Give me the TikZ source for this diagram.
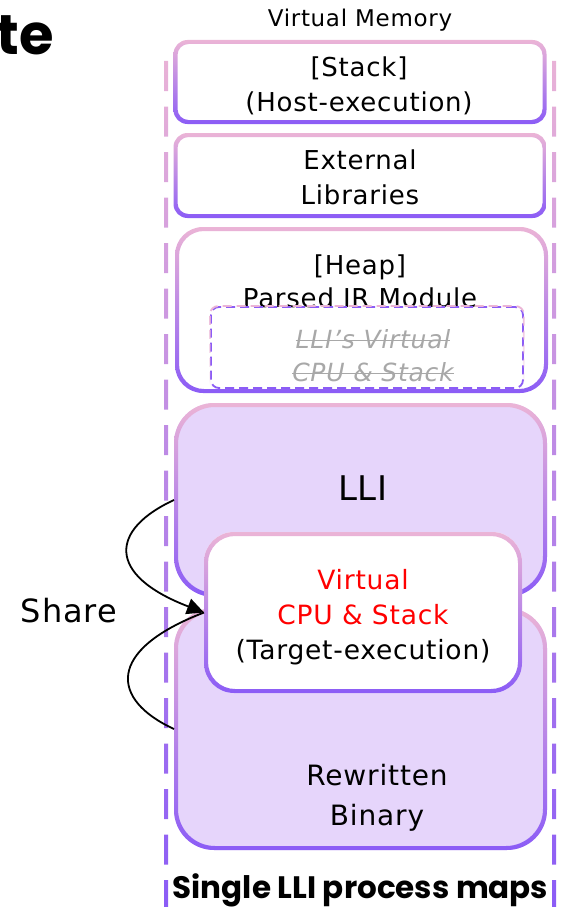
\documentclass[tikz,border=0pt]{standalone}
\usepackage{fontspec}
\setmainfont{DejaVu Sans}[LetterSpace=3]
\newfontfamily\headfont{Poppins}
\usetikzlibrary{arrows.meta,fadings}

\definecolor{pinkline}{RGB}{235,180,214}
\definecolor{magline}{RGB}{200,85,250}
\definecolor{purpline}{RGB}{139,92,246}
\definecolor{lavfill}{RGB}{230,213,251}
\definecolor{strikegray}{RGB}{168,168,168}

% gradient outline round a box node: #1 name, #2 outer radius, #3 inner radius
\newcommand{\gradring}[3]{%
  \shade[even odd rule, top color=pinkline, middle color=magline, bottom color=purpline]
    [rounded corners=#2] (#1.south west) rectangle (#1.north east)
    [rounded corners=#3] ([xshift=4pt,yshift=4pt]#1.south west) rectangle ([xshift=-4pt,yshift=-4pt]#1.north east);%
}
% struck-out text
\newcommand{\strikeout}[1]{\setbox0\hbox{#1}\rlap{\raisebox{0.3em}{\rule{\wd0}{1.3pt}}}\box0}

\begin{document}
\begin{tikzpicture}
  [x=1pt, y=-1pt,
   region/.style={rectangle, rounded corners=#1, draw=none, fill=white,
                  inner sep=0pt, outer sep=0pt, minimum width=373pt},
   region/.default=14pt,
   lbl/.style={align=center, inner sep=0pt, font=\fontsize{26}{35}\selectfont},
   share/.style={line width=1.8pt, black}]

  \useasboundingbox (0,0) rectangle (566,907);

  % dashed process borders
  \begin{scope}
    \clip \foreach \y in {61,106.5,...,907} {(164,\y) rectangle (168,\y+30) (552,\y) rectangle (556,\y+30)};
    \shade[top color=pinkline, middle color=magline, bottom color=purpline] (160,40) rectangle (560,907);
  \end{scope}

  \node[anchor=base east, inner sep=0pt, font=\headfont\bfseries\fontsize{56}{60}\selectfont] (head) at (54,55) {te};
  \node[anchor=base, inner sep=0pt, font=\fontsize{23}{28}\selectfont] (title) at (360,27) {Virtual Memory};

  % memory regions
  \node[region, minimum height=84pt] (stack) at (360,82) {};
  \gradring{stack}{14pt}{11pt}
  \node[lbl] (stacktxt) at (359,86) {[Stack]\\(Host-execution)};

  \node[region, minimum height=85pt] (libs) at (360,175.5) {};
  \gradring{libs}{14pt}{11pt}
  \node[lbl] (libstxt) at (360,177) {External\\Libraries};

  \node[region=28pt, minimum height=166pt] (heap) at (361.5,310) {};
  \gradring{heap}{28pt}{25pt}
  \node[lbl, font=\fontsize{26}{33}\selectfont] (heaptxt) at (360,281) {[Heap]\\Parsed IR Module};
  \node[rectangle, rounded corners=8pt, minimum width=312pt, minimum height=81pt,
        draw=purpline, line width=1.8pt, dash pattern=on 9pt off 5pt] (oldcpu) at (367,347.5) {};
  \draw[pinkline, path fading=south, rounded corners=8pt, line width=1.8pt, dash pattern=on 9pt off 5pt]
    (oldcpu.south west) rectangle (oldcpu.north east);
  \node[lbl, text=strikegray, font=\itshape\fontsize{25}{33}\selectfont] (oldcputxt) at (373,356)
    {\strikeout{LLI’s Virtual}\\\strikeout{CPU \& Stack}};

  \node[region=40pt, fill=lavfill, minimum height=194pt] (lli) at (360.5,500) {};
  \gradring{lli}{40pt}{37pt}
  \node[lbl, font=\fontsize{34}{36}\selectfont] (llitxt) at (363,488) {LLI};

  \node[region=40pt, fill=lavfill, minimum height=242pt] (rewr) at (360.5,729) {};
  \gradring{rewr}{40pt}{37pt}
  \node[lbl, font=\fontsize{28}{40}\selectfont] (rewrtxt) at (377,798) {Rewritten\\Binary};

  \node[region=30pt, minimum width=318pt, minimum height=161pt] (vcpu) at (363,612.5) {};
  \gradring{vcpu}{30pt}{27pt}
  \node[lbl, font=\fontsize{26.5}{35}\selectfont] (vcputxt) at (363,617)
    {\textcolor{red}{Virtual}\\\textcolor{red}{CPU \& Stack}\\(Target-execution)};

  % sharing
  \node[inner sep=0pt, font=\fontsize{32}{40}\selectfont] (sharetxt) at (69,611) {Share};
  \draw[share, -{Triangle[length=17pt, width=16pt]}] (lli.west) .. controls +(-63,29) and +(-99,-38) .. (vcpu.west);
  \draw[share] (rewr.west) .. controls +(-63,-29) and +(-99,38) .. (vcpu.west);

  \node[anchor=base, inner sep=0pt, font=\headfont\bfseries\fontsize{31}{34}\selectfont] (procname) at (360.5,898) {Single LLI process maps};
\end{tikzpicture}
\end{document}
